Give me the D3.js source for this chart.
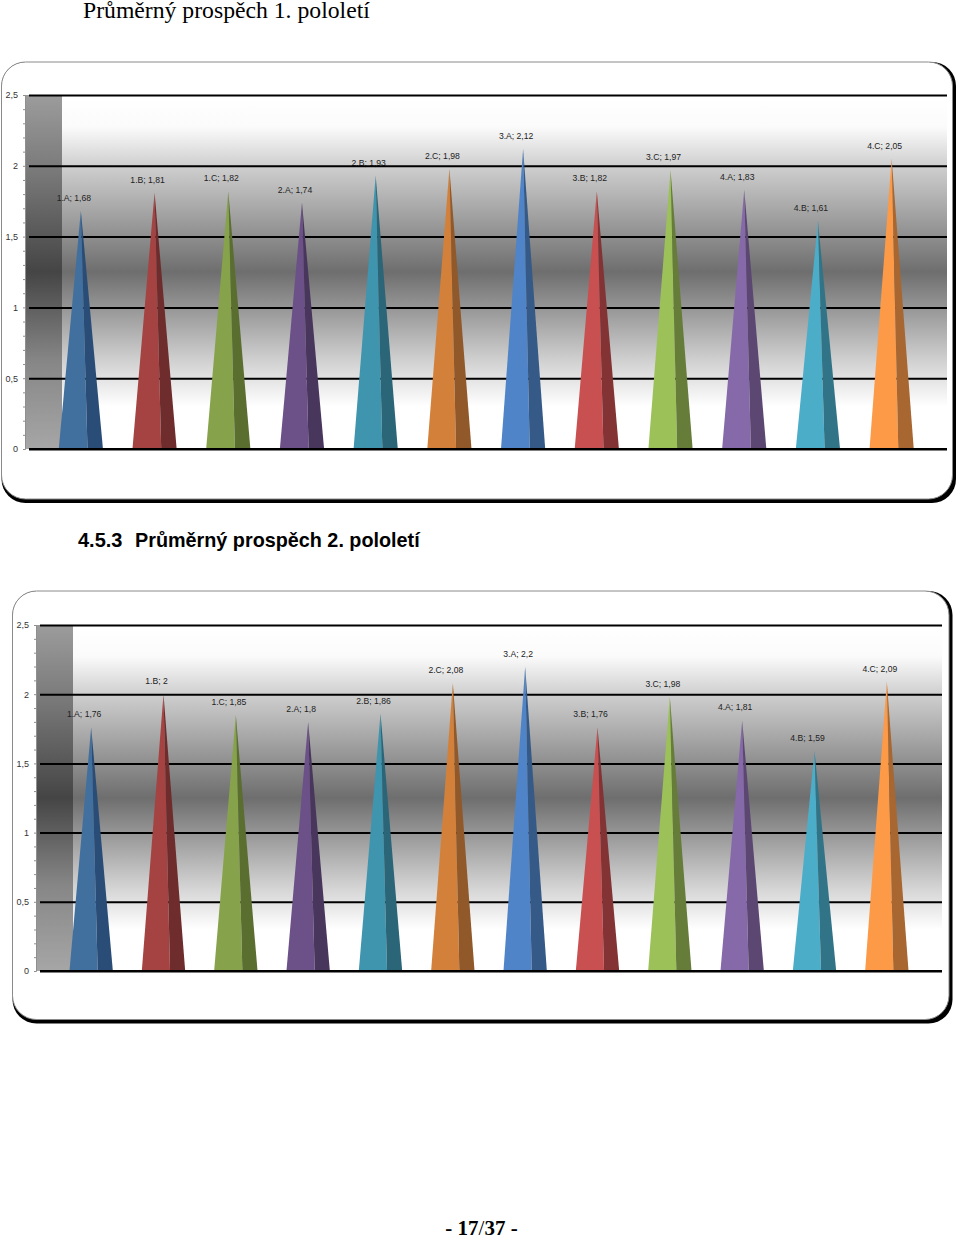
<!DOCTYPE html>
<html>
<head>
<meta charset="utf-8">
<script src="https://cdn.jsdelivr.net/npm/d3@7"></script>
<style>
  html, body { margin: 0; padding: 0; background: #fff; }
  svg { display: block; }
</style>
</head>
<body>
<div id="page"></div>
<script>
const categories = ['1.A', '1.B', '1.C', '2.A', '2.B', '2.C', '3.A', '3.B', '3.C', '4.A', '4.B', '4.C'];
const values1 = [1.68, 1.81, 1.82, 1.74, 1.93, 1.98, 2.12, 1.82, 1.97, 1.83, 1.61, 2.05];
const values2 = [1.76, 2, 1.85, 1.8, 1.86, 2.08, 2.2, 1.76, 1.98, 1.81, 1.59, 2.09];
const yTicks = [0, 0.5, 1, 1.5, 2, 2.5];
const minorTicks = d3.range(0, 26).map(d => d / 10);

const frontColors = ['#41709f', '#a44342', '#86a34b', '#6c5088', '#3f94ae', '#d3813a', '#5084c8', '#c95051', '#9dc159', '#8669a9', '#4cadc9', '#fd9a47'];
const sideColors = ['#2a4d78', '#6f2c2c', '#5a6e30', '#49365d', '#2b6578', '#91582a', '#355a87', '#833334', '#657d39', '#5b4772', '#327487', '#a86630'];

const comma = d => String(d).replace('.', ',');

const svg = d3.select('#page').append('svg')
  .attr('width', 960)
  .attr('height', 1237);

const defs = svg.append('defs');

const bgGrad = defs.append('linearGradient')
  .attr('id', 'bgGrad').attr('x1', 0).attr('y1', 0).attr('x2', 0).attr('y2', 1);
[[0, '#ffffff'], [0.09, '#fbfbfb'], [0.2, '#cfcfcf'], [0.5, '#6e6e6e'], [0.76, '#d4d4d4'], [0.88, '#ffffff'], [1, '#ffffff']]
  .forEach(s => bgGrad.append('stop').attr('offset', s[0]).attr('stop-color', s[1]));

const wallGrad = defs.append('linearGradient')
  .attr('id', 'wallGrad').attr('x1', 0).attr('y1', 0).attr('x2', 0).attr('y2', 1);
[[0, '#9c9c9c'], [0.2, '#7c7c7c'], [0.5, '#454545'], [0.75, '#868686'], [1, '#a6a6a6']]
  .forEach(s => wallGrad.append('stop').attr('offset', s[0]).attr('stop-color', s[1]));

function drawChart(values, cfg) {
  const g = svg.append('g');

  // rounded frame, black shadow below the white card
  g.append('rect')
    .attr('x', cfg.frame[0]).attr('y', cfg.frame[1])
    .attr('width', cfg.frame[2] - cfg.frame[0] + 3.5)
    .attr('height', cfg.frame[3] - cfg.frame[1] + 4)
    .attr('rx', 24).attr('fill', '#000');
  g.append('rect')
    .attr('x', cfg.frame[0]).attr('y', cfg.frame[1])
    .attr('width', cfg.frame[2] - cfg.frame[0])
    .attr('height', cfg.frame[3] - cfg.frame[1])
    .attr('rx', 24).attr('fill', '#fff')
    .attr('stroke', '#8a8a8a').attr('stroke-width', 1);

  const y = d3.scaleLinear().domain([0, 2.5]).range([cfg.bottom, cfg.top]);
  const x = d3.scaleBand().domain(categories).range(cfg.bandRange).paddingInner(cfg.padding).paddingOuter(cfg.padding / 2);

  g.append('rect')
    .attr('x', cfg.wallRight).attr('y', cfg.top)
    .attr('width', cfg.right - cfg.wallRight).attr('height', cfg.bottom - cfg.top)
    .attr('fill', 'url(#bgGrad)');
  g.append('rect')
    .attr('x', cfg.wallLeft).attr('y', cfg.top)
    .attr('width', cfg.wallRight - cfg.wallLeft).attr('height', cfg.bottom - cfg.top)
    .attr('fill', 'url(#wallGrad)');

  // minor ticks on the left edge of the wall
  g.append('g')
    .attr('transform', `translate(${cfg.wallLeft},0)`)
    .call(d3.axisLeft(y).tickValues(minorTicks).tickSize(2).tickFormat(''))
    .call(a => a.select('.domain').attr('stroke', '#8f8f8f'))
    .call(a => a.selectAll('line').attr('stroke', '#8f8f8f'));

  // labels go under the grid lines, the 2.B label in the first chart is crossed by one
  g.append('g').selectAll('text')
    .data(values)
    .join('text')
    .attr('x', (d, i) => x(categories[i]) + x.bandwidth() / 2 - 7)
    .attr('y', d => y(d) - 10)
    .attr('text-anchor', 'middle')
    .style('font', '8.6px "Liberation Sans"')
    .attr('fill', '#222')
    .text((d, i) => `${categories[i]}; ${comma(d)}`);

  const axis = g.append('g')
    .attr('transform', `translate(${cfg.gridLeft},0)`)
    .call(d3.axisLeft(y).tickValues(yTicks).tickSize(-(cfg.right - cfg.gridLeft)).tickPadding(cfg.tickPad).tickFormat(comma));
  axis.select('.domain').remove();
  axis.selectAll('line').attr('stroke', '#000').attr('stroke-width', 2);
  axis.selectAll('text').style('font', '9px "Liberation Sans"').attr('fill', '#333');

  // spikes: lit front face and darker side face
  const bars = g.append('g').selectAll('g')
    .data(values)
    .join('g');

  const split = 0.65;
  bars.append('path')
    .attr('fill', (d, i) => frontColors[i])
    .attr('d', (d, i) => {
      const l = x(categories[i]), w = x.bandwidth();
      return d3.line()([[l + w / 2, y(d)], [l, y(0)], [l + w * split, y(0)]]) + 'Z';
    });
  bars.append('path')
    .attr('fill', (d, i) => sideColors[i])
    .attr('d', (d, i) => {
      const l = x(categories[i]), w = x.bandwidth();
      return d3.line()([[l + w / 2, y(d)], [l + w * split, y(0)], [l + w, y(0)]]) + 'Z';
    });

  // zero line stays visible in front of the spikes
  g.append('line')
    .attr('x1', cfg.gridLeft).attr('x2', cfg.right)
    .attr('y1', y(0)).attr('y2', y(0))
    .attr('stroke', '#000').attr('stroke-width', 2);
}

drawChart(values1, {
  frame: [1.5, 62, 952.5, 499],
  top: 95, bottom: 449, right: 947,
  wallLeft: 25, wallRight: 62, gridLeft: 29, tickPad: 11,
  bandRange: [44, 928.5], padding: 0.4
});

drawChart(values2, {
  frame: [12.5, 591, 949, 1019.5],
  top: 625, bottom: 971, right: 942,
  wallLeft: 36, wallRight: 73, gridLeft: 40, tickPad: 11,
  bandRange: [55, 923], padding: 0.4
});

svg.append('text').attr('x', 83).attr('y', 18)
  .style('font', '23.7px "Liberation Serif"').attr('fill', '#000')
  .text('Průměrný prospěch 1. pololetí');

svg.append('text').attr('x', 78).attr('y', 547)
  .style('font', 'bold 20px "Liberation Sans"').attr('fill', '#000')
  .text('4.5.3');
svg.append('text').attr('x', 135).attr('y', 547)
  .style('font', 'bold 19.8px "Liberation Sans"').attr('fill', '#000')
  .text('Průměrný prospěch 2. pololetí');

const pageNo = svg.append('text').attr('x', 481.5).attr('y', 1235)
  .attr('text-anchor', 'middle')
  .style('font', 'bold 21px "Liberation Serif"').attr('fill', '#000');
pageNo.append('tspan').text('- 17');
pageNo.append('tspan').style('font-weight', 'normal').text('/');
pageNo.append('tspan').text('37 -');
</script>
</body>
</html>
